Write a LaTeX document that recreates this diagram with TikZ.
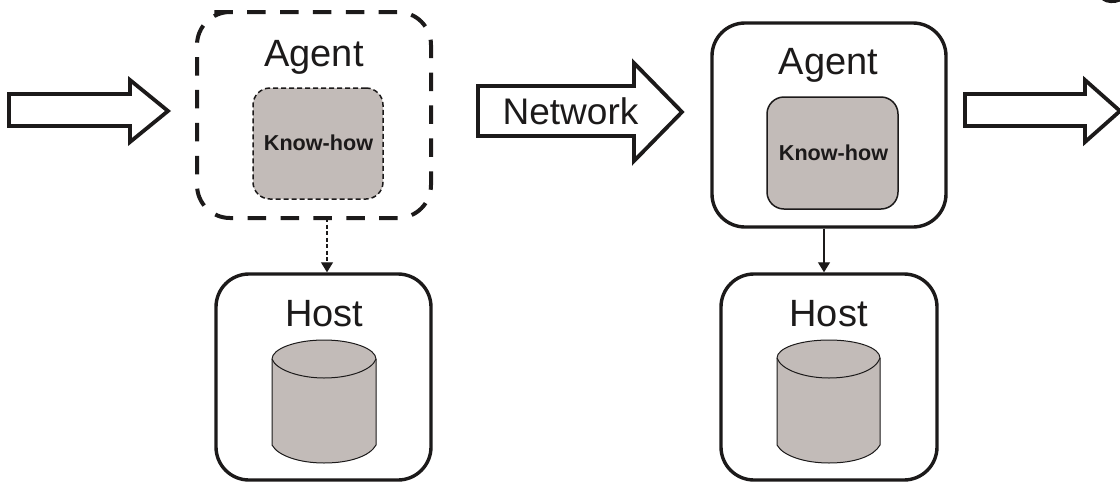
\documentclass[tikz,border=0pt]{standalone}
\usepackage{fontspec}
\setmainfont{Liberation Sans}
\usetikzlibrary{arrows.meta}
\definecolor{fillgray}{RGB}{194,187,184}
\definecolor{ink}{RGB}{28,26,26}
\tikzset{
  x=1pt,y=-1pt,
  outer/.style={draw=ink,line width=3.4pt,rounded corners=33pt,fill=white,inner sep=0pt},
  outerplain/.style={fill=white,inner sep=0pt,outer sep=0pt,rounded corners=33pt},
  outerdash/.style={draw=ink,line width=4pt,rounded corners=33pt,dash pattern=on 18.5pt off 14.4pt},
  inner/.style={draw=ink,line width=1.5pt,rounded corners=17pt,fill=fillgray,inner sep=0pt},
  innerdash/.style={inner,dash pattern=on 5pt off 3pt},
  bigarrow/.style={draw=ink,line width=3.8pt,fill=white,miter limit=10},
  bigtext/.style={font=\fontsize{38}{40}\selectfont,text=ink,inner sep=0pt,anchor=base},
  nettext/.style={bigtext,font=\fontsize{37}{40}\selectfont},
  smalltext/.style={font=\bfseries\fontsize{21.6}{24}\selectfont,text=ink,inner sep=0pt,anchor=base},
  conn/.style={draw=ink,line width=1.1pt,-{Triangle[length=10pt,width=12pt]}},
  conndash/.style={conn,dash pattern=on 4pt off 2.5pt},
  cyl/.style={draw=ink,line width=1pt,fill=fillgray},
}
\begin{document}
\begin{tikzpicture}
\useasboundingbox (0,0) rectangle (1120,483);
% incoming arrow
\draw[bigarrow] (9,94) -- (130,94) -- (130,80) -- (168,111) -- (130,142) -- (130,126) -- (9,126) -- cycle;
% network arrow
\draw[bigarrow] (478,86) -- (634,86) -- (634,63) -- (682,112) -- (634,161) -- (634,136) -- (478,136) -- cycle;
\node[nettext] (networklabel) at (570.5,124) {Network};
% outgoing arrow
\draw[bigarrow] (965,94) -- (1085,94) -- (1085,80) -- (1120,111) -- (1085,142) -- (1085,126) -- (965,126) -- cycle;
% agent 1
\node[outerplain,minimum width=234pt,minimum height=206pt] (agentA) at (314,115) {};
\draw[outerdash] ([xshift=50pt]agentA.north west) -- (agentA.north east) -- (agentA.south east) -- (agentA.south west) -- (agentA.north west) -- cycle;
\node[bigtext] (agentAlabel) at (314,66) {Agent};
\node[innerdash,minimum width=130pt,minimum height=111pt] (knowA) at (318,143.5) {};
\node[smalltext] (knowAlabel) at (318.5,150) {Know-how};
% host 1
\node[outer,minimum width=215pt,minimum height=206pt] (hostA) at (323.5,377) {};
\node[bigtext] (hostAlabel) at (324.5,326) {Host};
\draw[conn,conndash] ([xshift=13pt]agentA.south) -- ([xshift=3.5pt]hostA.north);
% cylinder 1
\draw[cyl] (272,359) -- (272,445) .. controls (278,456) and (300,463) .. (324,463) .. controls (350,463) and (370,456) .. (376,445) -- (376,359) .. controls (376,349) and (353,340) .. (324,340) .. controls (295,340) and (272,349) .. (272,359) -- cycle;
\draw[cyl,fill=none] (272,359) .. controls (276,370) and (300,378) .. (324,378) .. controls (350,378) and (372,370) .. (376,359);
% agent 2
\node[outer,minimum width=234pt,minimum height=204pt] (agentB) at (829,125) {};
\node[bigtext] (agentBlabel) at (828.5,74) {Agent};
\node[inner,minimum width=131pt,minimum height=112pt] (knowB) at (832.5,153) {};
\node[smalltext] (knowBlabel) at (833.5,160) {Know-how};
% host 2
\node[outer,minimum width=216pt,minimum height=206pt] (hostB) at (829,377) {};
\node[bigtext] (hostBlabel) at (828.5,326) {Host};
\draw[conn] ([xshift=-5pt]agentB.south) -- ([xshift=-5pt]hostB.north);
% cylinder 2
\draw[cyl] (777,358) -- (777,445) .. controls (783,456) and (805,463) .. (829,463) .. controls (855,463) and (874,456) .. (880,445) -- (880,358) .. controls (880,348) and (858,340) .. (829,340) .. controls (800,340) and (777,348) .. (777,358) -- cycle;
\draw[cyl,fill=none] (777,358) .. controls (781,370) and (805,378) .. (829,378) .. controls (855,378) and (876,370) .. (880,358);
% fragment top right
\draw[draw=ink,line width=3pt] (1103,-1) .. controls (1107,2) and (1114,2.5) .. (1120,0);
\end{tikzpicture}
\end{document}
